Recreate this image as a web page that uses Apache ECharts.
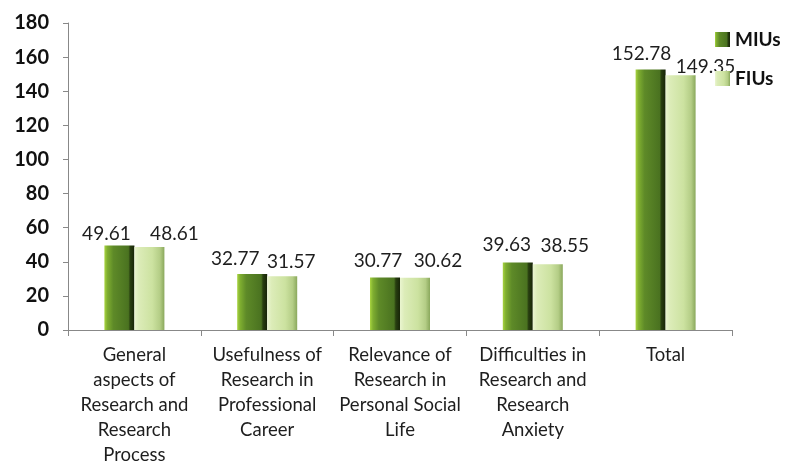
<!DOCTYPE html>
<html>
<head>
<meta charset="utf-8">
<script src="https://cdn.jsdelivr.net/npm/echarts@6/dist/echarts.min.js"></script>
<style>html,body{margin:0;padding:0;background:#fff;}#c{width:788px;height:468px;}</style>
</head>
<body>
<div id="c"></div>
<script>
const categories = [
  "General\naspects of\nResearch and\nResearch\nProcess",
  "Usefulness of\nResearch in\nProfessional\nCareer",
  "Relevance of\nResearch in\nPersonal Social\nLife",
  "Difficulties in\nResearch and\nResearch\nAnxiety",
  "Total"
];
const seriesNames = ["MIUs", "FIUs"];
const miuValues = [49.61, 32.77, 30.77, 39.63, 152.78];
const fiuValues = [48.61, 31.57, 30.62, 38.55, 149.35];
const yTicks = [0, 20, 40, 60, 80, 100, 120, 140, 160, 180];

// label offsets (style only)
const miuLabelOffsets = [[-13, 2], [-17, -2], [-7, -3], [-11, -4], [-9, -2]];
const fiuLabelOffsets = [[25, 0], [9, -1], [23, -3], [17, -5], [25, 5]];

const miuColor = new echarts.graphic.LinearGradient(0, 0, 1, 0, [
  {offset: 0, color: '#a8d440'},
  {offset: 0.1, color: '#7fae30'},
  {offset: 0.3, color: '#5e8a28'},
  {offset: 0.8, color: '#4a7220'},
  {offset: 0.86, color: '#283e10'},
  {offset: 1, color: '#172408'}
]);
const fiuColor = new echarts.graphic.LinearGradient(0, 0, 1, 0, [
  {offset: 0, color: '#eaf5d0'},
  {offset: 0.15, color: '#dcecb8'},
  {offset: 0.6, color: '#cce2a0'},
  {offset: 0.85, color: '#b4cd86'},
  {offset: 1, color: '#8aa85c'}
]);

function mk(values, offsets) {
  return values.map((v, i) => ({value: v, label: {offset: offsets[i]}}));
}

const labelStyle = {
  show: true, position: 'top', distance: 4,
  fontFamily: 'Lato', fontSize: 19, color: '#1e1e1e'
};

const chart = echarts.init(document.getElementById('c'), null, {renderer: 'canvas'});
chart.setOption({
  animation: false,
  backgroundColor: '#fff',
  grid: {left: 68, top: 23, width: 664, height: 311},
  legend: {
    orient: 'vertical', left: 710, top: 25, itemGap: 20,
    itemWidth: 15, itemHeight: 15, icon: 'rect',
    textStyle: {fontFamily: 'Lato', fontWeight: 'bold', fontSize: 19, color: '#111', padding: [0, 0, 0, 0]},
    data: seriesNames
  },
  xAxis: {
    type: 'category', data: categories,
    axisLine: {lineStyle: {color: '#888', width: 1}},
    axisTick: {show: true, length: 6, lineStyle: {color: '#888'}},
    axisLabel: {
      interval: 0, margin: 13, color: '#1e1e1e',
      fontFamily: 'Lato', fontSize: 18.5, lineHeight: 25, align: 'center'
    }
  },
  yAxis: {
    type: 'value', min: yTicks[0], max: yTicks[yTicks.length - 1], interval: 20,
    axisLine: {show: true, lineStyle: {color: '#888', width: 1}},
    axisTick: {show: true, length: 5, lineStyle: {color: '#888'}},
    splitLine: {show: false},
    axisLabel: {margin: 19, color: '#111', fontFamily: 'Lato', fontWeight: 'bold', fontSize: 20}
  },
  series: [
    {
      name: seriesNames[0], type: 'bar', barWidth: 30, barGap: '0%',
      itemStyle: {color: miuColor},
      label: labelStyle,
      data: mk(miuValues, miuLabelOffsets)
    },
    {
      name: seriesNames[1], type: 'bar', barWidth: 30, barGap: '0%',
      itemStyle: {color: fiuColor},
      label: labelStyle,
      data: mk(fiuValues, fiuLabelOffsets)
    }
  ]
});
</script>
</body>
</html>
